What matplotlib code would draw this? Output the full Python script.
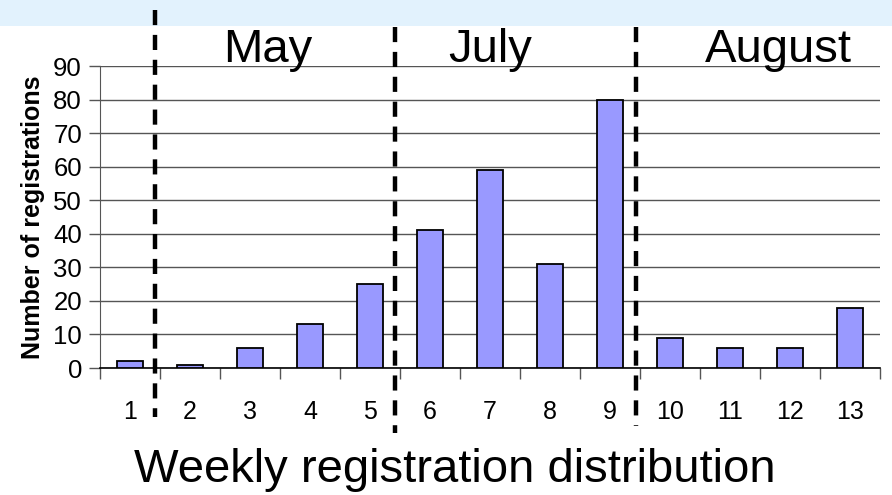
import matplotlib.pyplot as plt
from matplotlib.patches import Rectangle
from matplotlib.lines import Line2D
import matplotlib.transforms as mtransforms

plt.rcParams['font.family'] = ['Liberation Sans', 'DejaVu Sans']

weeks = ["1", "2", "3", "4", "5", "6", "7", "8", "9", "10", "11", "12", "13"]
registrations = [2, 1, 6, 13, 25, 41, 59, 31, 80, 9, 6, 6, 18]
months = ["May", "July", "August"]
month_centers = [2.3, 6.0, 10.8]          # x position (in week index units)
month_breaks = [0.42, 4.42, 8.43]         # dashed separators between months
y_ticks = [0, 10, 20, 30, 40, 50, 60, 70, 80, 90]

W, H = 892, 495
fig = plt.figure(figsize=(W / 100, H / 100), dpi=100)

# light blue band at the top
fig.patches.append(Rectangle((0, 1 - 26 / H), 1, 26 / H, transform=fig.transFigure,
                             facecolor="#E2F2FD", edgecolor="none", zorder=0))

ax = fig.add_axes([100 / W, (H - 368) / H, 780 / W, 302 / H])
x = list(range(len(weeks)))
ax.bar(x, registrations, width=0.43, color="#9999FF", edgecolor="black", linewidth=1.3, zorder=3)

ax.set_xlim(-0.5, len(weeks) - 0.5)
ax.set_ylim(0, 90)
ax.set_yticks(y_ticks)
ax.yaxis.grid(True, color="#555555", linewidth=1.0)
ax.set_axisbelow(True)

ax.set_xticks([i - 0.5 for i in range(len(weeks) + 1)])
ax.set_xticklabels([])
ax.set_xticks(x, minor=True)
ax.set_xticklabels(weeks, minor=True, fontsize=18)
ax.tick_params(axis="x", which="major", direction="out", length=8, width=1, color="#555555")
ax.tick_params(axis="x", which="minor", length=0, pad=23)
ax.tick_params(axis="y", direction="out", length=8, width=1, color="#555555", labelsize=18.5, pad=5)

for s in ["top", "right"]:
    ax.spines[s].set_visible(False)
ax.spines["left"].set_color("#555555")
ax.spines["bottom"].set_color("black")
ax.spines["bottom"].set_linewidth(1.2)

ax.set_ylabel("Number of registrations", fontsize=18, fontweight="bold", labelpad=6)

# month labels and dashed separators
trans = mtransforms.blended_transform_factory(ax.transData, fig.transFigure)
for m, c in zip(months, month_centers):
    ax.text(c, 1 - 62 / H, m, transform=trans, ha="center", va="baseline", fontsize=34)

sep_top = [10, 27, 27]
sep_bottom = [417, 433, 426]
for b, t0, b0 in zip(month_breaks, sep_top, sep_bottom):
    ln = Line2D([b, b], [1 - t0 / H, 1 - b0 / H], transform=trans, color="black",
                linewidth=3.2, linestyle=(0, (3.4, 2.2)), solid_capstyle="butt",
                dash_capstyle="butt", clip_on=False, zorder=5)
    fig.lines.append(ln)

fig.text(455 / W, 1 - 482 / H, "Weekly registration distribution", ha="center",
         va="baseline", fontsize=34)

fig.savefig("out.png", dpi=100)
